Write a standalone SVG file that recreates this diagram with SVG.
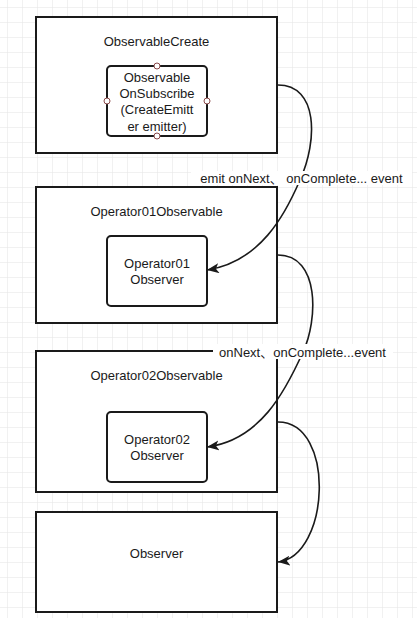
<svg xmlns="http://www.w3.org/2000/svg" width="417" height="618" viewBox="0 0 417 618">
<style>
.box{fill:#fff;stroke:#1a1a1a;stroke-width:2}
.inner{fill:#fff;stroke:#1a1a1a;stroke-width:2}
.t{font-family:"Liberation Sans","Noto Sans CJK SC",sans-serif;font-size:13px;fill:#1a1a1a;text-anchor:middle}
.edge{fill:none;stroke:#1a1a1a;stroke-width:1.6}
.lblbg{fill:#fff}
.port{fill:#fff;stroke:#8b4a4a;stroke-width:1}
</style>
<defs>
<pattern id="grid" x="7" y="7" width="15" height="15" patternUnits="userSpaceOnUse">
<path d="M15 0 L0 0 0 15" fill="none" stroke="#e3e3e3" stroke-width="1"/>
</pattern>
<marker id="arr" markerUnits="userSpaceOnUse" markerWidth="14" markerHeight="12" refX="12" refY="5" orient="auto">
<path d="M0,0 L12,5 L0,10 L3,5 z" fill="#1a1a1a"/>
</marker>
</defs>
<rect width="417" height="618" fill="#fff"/>
<rect width="417" height="618" fill="url(#grid)"/>

<g id="observableCreate">
<rect class="box" x="36" y="17" width="241" height="136"/>
<text class="t" x="156.5" y="46">ObservableCreate</text>
</g>
<g id="observableOnSubscribe">
<rect class="inner" x="107" y="66" width="100" height="70" rx="4"/>
<text class="t" x="157" y="82">Observable</text>
<text class="t" x="157" y="98">OnSubscribe</text>
<text class="t" x="157" y="114">(CreateEmitt</text>
<text class="t" x="157" y="131">er emitter)</text>
<circle class="port" cx="157" cy="66" r="3"/>
<circle class="port" cx="157" cy="136" r="3"/>
<circle class="port" cx="107" cy="101" r="3"/>
<circle class="port" cx="207" cy="101" r="3"/>
</g>

<g id="operator01Observable">
<rect class="box" x="36" y="187" width="241" height="136"/>
<text class="t" x="156.5" y="216">Operator01Observable</text>
</g>
<g id="operator01Observer">
<rect class="inner" x="107" y="236" width="100" height="70" rx="4"/>
<text class="t" x="157" y="268">Operator01</text>
<text class="t" x="157" y="284">Observer</text>
</g>

<g id="operator02Observable">
<rect class="box" x="36" y="351" width="241" height="141"/>
<text class="t" x="156.5" y="380">Operator02Observable</text>
</g>
<g id="operator02Observer">
<rect class="inner" x="107" y="412" width="100" height="70" rx="4"/>
<text class="t" x="157" y="444">Operator02</text>
<text class="t" x="157" y="460">Observer</text>
</g>

<g id="observer">
<rect class="box" x="36" y="512" width="241" height="100"/>
<text class="t" x="156.5" y="558">Observer</text>
</g>

<g id="connectors">
<path class="edge" d="M278,85 C318,85 318,140 300,180 C285,215 260,262 207,270" marker-end="url(#arr)"/>
<path class="edge" d="M278,255 C320,255 318,320 303,352 C285,392 260,440 207,447" marker-end="url(#arr)"/>
<path class="edge" d="M278,422 C336,422 330,556 278,562" marker-end="url(#arr)"/>
<rect class="lblbg" x="191" y="171" width="221" height="14"/>
<text class="t" x="301.5" y="183">emit onNext、 onComplete... event</text>
<rect class="lblbg" x="213" y="344" width="180" height="15"/>
<text class="t" x="302.5" y="357">onNext、onComplete...event</text>
</g>
</svg>
